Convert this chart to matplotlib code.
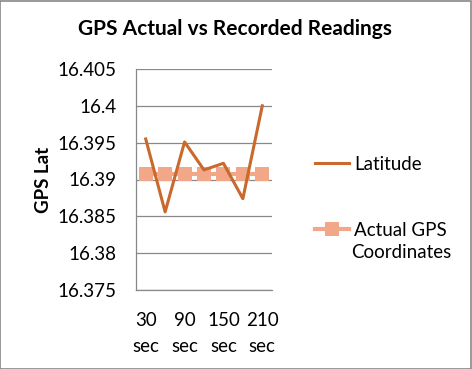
import numpy as np
import matplotlib.pyplot as plt

# chart data
times = ['30\nsec', '60\nsec', '90\nsec', '120\nsec', '150\nsec', '180\nsec', '210\nsec']
latitude = [16.3955, 16.3856, 16.3951, 16.3913, 16.3922, 16.3874, 16.4000]
actual_gps = [16.3907] * 7
y_ticks = [16.375, 16.38, 16.385, 16.39, 16.395, 16.4, 16.405]
y_tick_labels = ['16.375', '16.38', '16.385', '16.39', '16.395', '16.4', '16.405']

plt.rcParams['font.family'] = ['Lato', 'DejaVu Sans']

fig = plt.figure(figsize=(4.72, 3.69), dpi=100)
ax = fig.add_axes([136 / 472, 1 - 290 / 369, 136 / 472, 221 / 369])

x = np.arange(len(times))
ax.plot(x, actual_gps, color='#F2A888', linewidth=3, marker='s', markersize=10,
        markeredgewidth=0, label='Actual GPS', zorder=3)
ax.plot(x, latitude, color='#C9692C', linewidth=2.2, label='Latitude', zorder=4)

ax.set_xlim(-0.5, len(times) - 0.5)
ax.set_ylim(16.375, 16.405)
ax.set_yticks(y_ticks)
ax.set_yticklabels(y_tick_labels, fontsize=13.5)
ax.set_xticks(x[::2])
ax.set_xticklabels(times[::2], fontsize=13.5, linespacing=1.6)
ax.tick_params(axis='x', length=0, pad=16)
ax.tick_params(axis='y', length=0, pad=14)
ax.grid(axis='y', color='#888888', linewidth=0.9)
ax.set_axisbelow(True)
for side in ['top', 'right']:
    ax.spines[side].set_visible(False)
for side in ['left', 'bottom']:
    ax.spines[side].set_color('#888888')
    ax.spines[side].set_linewidth(0.9)

ax.set_ylabel('GPS Lat', fontsize=13.5, fontweight='bold', labelpad=4)
fig.suptitle('GPS Actual vs Recorded Readings', fontsize=15, fontweight='bold',
             x=235 / 472, y=1 - 19 / 369, va='top')

handles, labels = ax.get_legend_handles_labels()
fig.legend(handles[::-1], labels[::-1], loc='upper left', bbox_to_anchor=(298 / 472, 1 - 139 / 369),
           frameon=False, fontsize=13.5, handlelength=1.8, handletextpad=0.3, labelspacing=2.6)
# second line of the legend label, Excel wraps it under the first
fig.text(351 / 472, 1 - 252 / 369, 'Coordinates', fontsize=13.5, va='center', ha='left')

# grey border around the chart
fig.patches.append(plt.Rectangle((0.001, 0.001), 0.997, 0.997, transform=fig.transFigure,
                                 fill=False, edgecolor='#888888', linewidth=1.2))

plt.savefig('out.png', dpi=100)
